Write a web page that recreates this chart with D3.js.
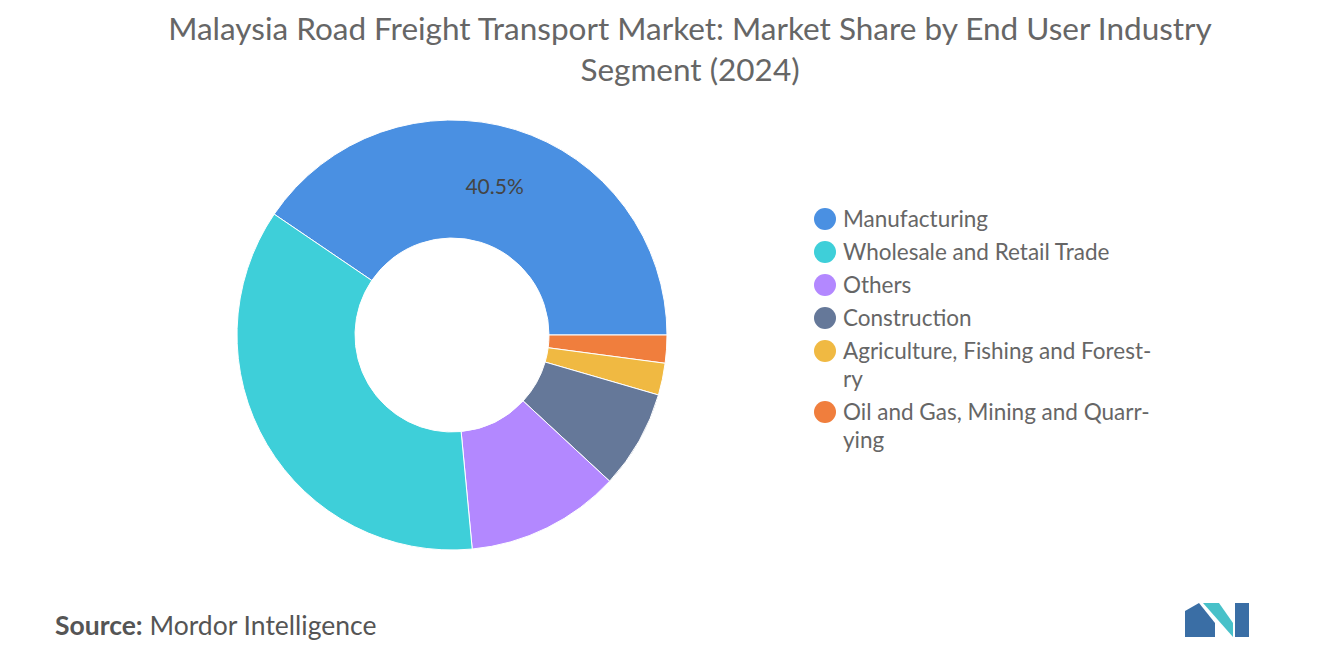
<!DOCTYPE html>
<html><head><meta charset="utf-8">
<script src="https://cdn.jsdelivr.net/npm/d3@7"></script>
<style>body{margin:0;background:#fff;font-family:Lato,"Open Sans",sans-serif}</style>
</head><body>
<svg id="c" width="1320" height="665"></svg>
<script>
const categories = ["Manufacturing","Oil and Gas, Mining and Quarrying","Agriculture, Fishing and Forestry","Construction","Others","Wholesale and Retail Trade"];
const values = [40.5, 2.1, 2.4, 7.4, 11.6, 36.0];
const colors = ["#4a90e2","#f07e3d","#f0b942","#657899","#b388ff","#3ecfd9"];
const legendOrder = [0,5,4,3,2,1];
const legendLines = {0:["Manufacturing"],5:["Wholesale and Retail Trade"],4:["Others"],3:["Construction"],2:["Agriculture, Fishing and Forest-","ry"],1:["Oil and Gas, Mining and Quarr-","ying"]};

const svg = d3.select("#c");
svg.append("text").attr("x",690).attr("y",40).attr("text-anchor","middle").attr("font-size",31.5).attr("fill","#666").text("Malaysia Road Freight Transport Market: Market Share by End User Industry");
svg.append("text").attr("x",690).attr("y",81).attr("text-anchor","middle").attr("font-size",31.5).attr("fill","#666").text("Segment (2024)");

const cx=452, cy=335, R=215, r=97;
const start=-55.8*Math.PI/180;
const pie=d3.pie().sort(null).startAngle(start).endAngle(start+2*Math.PI);
const arcs=pie(values);
const arc=d3.arc().innerRadius(r).outerRadius(R);
const g=svg.append("g").attr("transform",`translate(${cx},${cy})`);
g.selectAll("path").data(arcs).join("path").attr("d",arc).attr("fill",(d,i)=>colors[i]).attr("stroke","#fff").attr("stroke-width",1);
const a0=arcs[0], mid=(a0.startAngle+a0.endAngle)/2, lr=(R+r)/2*0.93+10;
g.append("text").attr("x",Math.sin(mid)*lr-3).attr("y",-Math.cos(mid)*lr).attr("text-anchor","middle").attr("dy","0.35em").attr("font-size",21).attr("fill","#444").text(values[0].toFixed(1)+"%");

const ys=[219,252,285,318,351,412];
legendOrder.forEach((idx,k)=>{
  const y=ys[k];
  svg.append("circle").attr("cx",825).attr("cy",y).attr("r",11).attr("fill",colors[idx]);
  legendLines[idx].forEach((t,j)=>svg.append("text").attr("x",843).attr("y",y+j*28).attr("dy","0.35em").attr("font-size",22.5).attr("fill","#666").text(t));
});

svg.append("text").attr("x",55).attr("y",635).attr("font-size",26.5).attr("fill","#555")
  .call(t=>{t.append("tspan").attr("font-weight","bold").text("Source:");t.append("tspan").text("  Mordor Intelligence");});
const lg=svg.append("g").attr("transform","translate(1185,603)");
lg.append("path").attr("d","M0,34 L0,8 L14,0 L30,20 L30,34 Z").attr("fill","#3a6ea5");
lg.append("path").attr("d","M18,0 L34,0 L48,20 L48,34 Z").attr("fill","#48c1c9");
lg.append("path").attr("d","M50,34 L50,0 L64,0 L64,34 Z").attr("fill","#3a6ea5");
</script>
</body></html>
